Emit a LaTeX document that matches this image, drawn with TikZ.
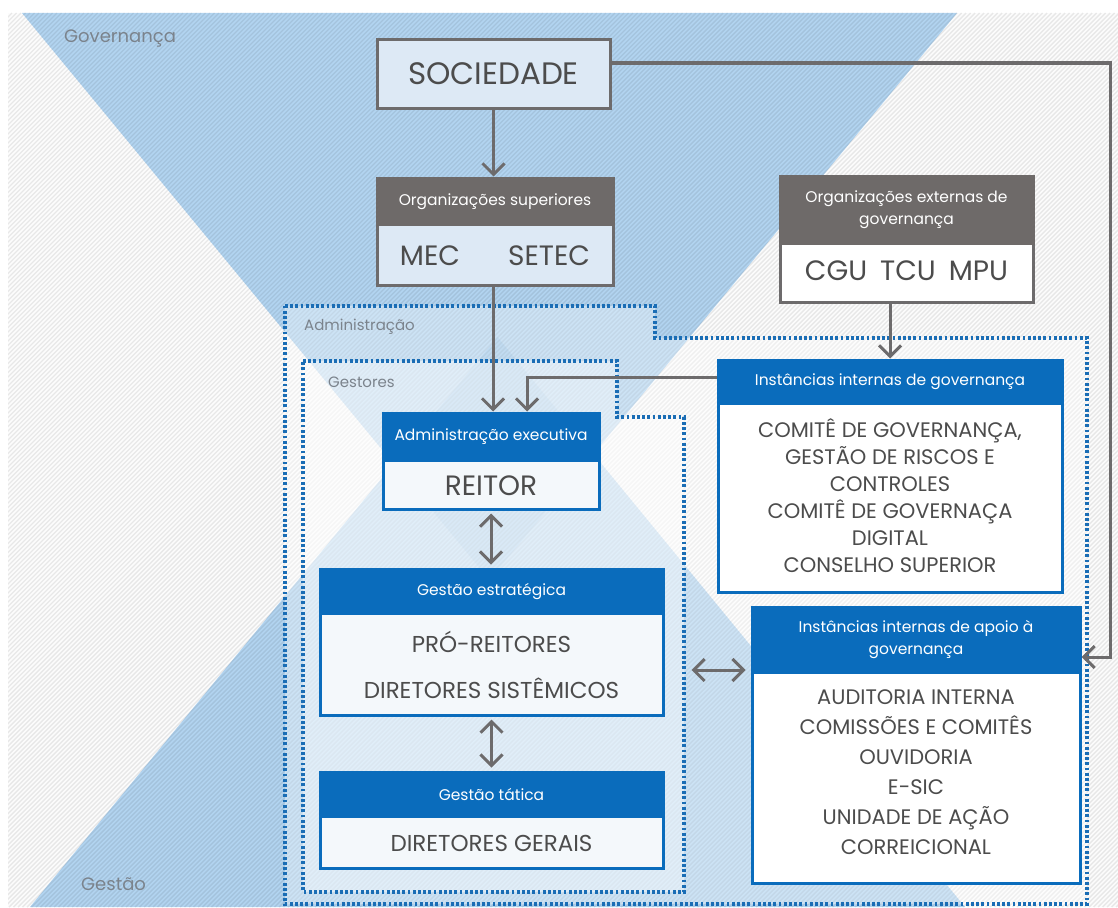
\documentclass[tikz,border=0pt]{standalone}
\usepackage{fontspec}
\setmainfont{Poppins}
\usetikzlibrary{arrows.meta,calc}
\definecolor{hdrgray}{HTML}{6E6A69}
\definecolor{lngray}{HTML}{6D6B6C}
\definecolor{bluehd}{HTML}{0A6CBC}
\definecolor{dotblue}{HTML}{1A6DB5}
\definecolor{txt}{HTML}{4C4C4C}
\definecolor{lbl}{HTML}{7B838C}
\definecolor{tri}{HTML}{B2D4F0}
\definecolor{pale}{HTML}{DDE9F5}
\definecolor{bodyw}{HTML}{F4F8FB}
\definecolor{diam}{HTML}{4A90D0}
\begin{document}
\begin{tikzpicture}[x=1pt,y=-1pt,
  gbox/.style={draw=lngray, line width=3pt, fill=pale, inner sep=0pt},
  bbox/.style={draw=bluehd, line width=3pt, fill=bodyw, inner sep=0pt},
  ghdr/.style={fill=hdrgray, text=white, inner sep=0pt, outer sep=0pt, anchor=north, align=center, font=\fontsize{15.5}{22}\selectfont},
  bhdr/.style={fill=bluehd, text=white, inner sep=0pt, outer sep=0pt, anchor=north, align=center, font=\fontsize{15.5}{22}\selectfont},
  bigtxt/.style={text=txt, inner sep=0pt, align=center},
  lbltxt/.style={text=lbl, inner sep=0pt, anchor=west},
  arr/.style={draw=lngray, line width=3pt, -{Straight Barb[length=11pt,width=22pt]}},
  darr/.style={draw=lngray, line width=3pt, {Straight Barb[length=11pt,width=22pt]}-{Straight Barb[length=11pt,width=22pt]}, shorten <=3pt, shorten >=3pt},
  dotb/.style={draw=dotblue, line width=3.4pt, dash pattern=on 2.8pt off 2.4pt}
]
\useasboundingbox (0,0) rectangle (1118,907);
% background
\fill[white] (0,0) rectangle (1118,907);
\fill[black!1] (8,13) rectangle (1118,907);
\fill[tri] (22,13) -- (957,13) -- (489.5,580) -- cycle;
\fill[tri] (30,907) -- (965,907) -- (497.5,337) -- cycle;
\begin{scope}
  \clip (22,13) -- (957,13) -- (489.5,580) -- cycle;
  \fill[diam, opacity=0.16] (30,907) -- (965,907) -- (497.5,337) -- cycle;
\end{scope}
% hatching
\begin{scope}
  \clip (8,13) rectangle (1118,907);
  \foreach \i in {-900,-895.5,...,1120}
    \draw[black, draw opacity=0.08, line width=1.4pt] (\i,907) -- ++(894,-894);
\end{scope}
% overlays for Administracao and Gestores
\fill[white, opacity=0.35] (285,306) -- (655,306) -- (655,338) -- (1087,338) -- (1087,904) -- (285,904) -- cycle;
\fill[white, opacity=0.4] (303,361) -- (617,361) -- (617,417) -- (684,417) -- (684,892) -- (303,892) -- cycle;
\draw[dotb] (285,306) -- (655,306) -- (655,338) -- (1087,338) -- (1087,904) -- (285,904) -- cycle;
\draw[dotb] (303,361) -- (617,361) -- (617,417) -- (684,417) -- (684,892) -- (303,892) -- cycle;
% labels
\node[lbltxt, font=\fontsize{18}{20}\selectfont] (lgov) at (64,38) {Governança};
\node[lbltxt, font=\fontsize{18}{20}\selectfont] (lges) at (81,884) {Gestão};
\node[lbltxt, font=\fontsize{15}{18}\selectfont] (ladm) at (304,327) {Administração};
\node[lbltxt, font=\fontsize{15}{18}\selectfont] (lgst) at (328,382) {Gestores};

% boxes
\node[gbox, minimum width=233pt, minimum height=68pt, text=txt, font=\fontsize{31}{34}\selectfont] (soc) at (493.5,74) {SOCIEDADE};

\node[gbox, minimum width=236pt, minimum height=107pt] (sup) at (495,231.5) {};
\node[ghdr, minimum width=239pt, minimum height=49.5pt] (supH) at (sup.north) {Organizações superiores};
\node[bigtxt, font=\fontsize{28}{30}\selectfont] (supT) at (495,256) {MEC\hspace{48pt}SETEC};

\node[gbox, fill=white, minimum width=253pt, minimum height=126pt] (ext) at (906.5,239) {};
\node[ghdr, minimum width=256pt, minimum height=70.5pt] (extH) at (ext.north) {Organizações externas de\\governança};
\node[bigtxt, font=\fontsize{28}{30}\selectfont] (extT) at (906.5,271) {CGU\hspace{13pt}TCU\hspace{13pt}MPU};

\node[bbox, fill=white, minimum width=344pt, minimum height=232pt] (gov) at (890,476) {};
\node[bhdr, minimum width=347pt, minimum height=46.5pt] (govH) at (gov.north) {Instâncias internas de governança};
\node[bigtxt, font=\fontsize{21}{27}\selectfont] (govT) at (890,496) {COMITÊ DE GOVERNANÇA,\\GESTÃO DE RISCOS E\\CONTROLES\\COMITÊ DE GOVERNAÇA\\DIGITAL\\CONSELHO SUPERIOR};

\node[bbox, minimum width=216pt, minimum height=96pt] (exe) at (491,461) {};
\node[bhdr, minimum width=219pt, minimum height=50.5pt] (exeH) at (exe.north) {Administração executiva};
\node[bigtxt, font=\fontsize{28}{30}\selectfont] (exeT) at (491,486) {REITOR};

\node[bbox, minimum width=343pt, minimum height=146pt] (est) at (491.5,642) {};
\node[bhdr, minimum width=346pt, minimum height=47.5pt] (estH) at (est.north) {Gestão estratégica};
\node[bigtxt, font=\fontsize{23}{46}\selectfont] (estT) at (491.5,665) {PRÓ-REITORES\\DIRETORES SISTÊMICOS};

\node[bbox, minimum width=343pt, minimum height=96pt] (tat) at (491.5,820) {};
\node[bhdr, minimum width=346pt, minimum height=47.5pt] (tatH) at (tat.north) {Gestão tática};
\node[bigtxt, font=\fontsize{23}{30}\selectfont] (tatT) at (491.5,843) {DIRETORES GERAIS};

\node[bbox, fill=white, minimum width=328pt, minimum height=276pt] (apo) at (916,745) {};
\node[bhdr, minimum width=331pt, minimum height=68.5pt] (apoH) at (apo.north) {Instâncias internas de apoio à\\governança};
\node[bigtxt, font=\fontsize{21}{30}\selectfont] (apoT) at (916,772) {AUDITORIA INTERNA\\COMISSÕES E COMITÊS\\OUVIDORIA\\E-SIC\\UNIDADE DE AÇÃO\\CORREICIONAL};

% connectors
\coordinate (rc) at (1110,657);
\draw[arr] (soc.south) -- (soc.south |- sup.north);
\draw[arr] ([yshift=11pt]soc.east) -| (rc) -- (rc -| apo.east);
\draw[arr] ([xshift=-2pt]sup.south) -- ([xshift=-2pt]sup.south |- exe.north);
\draw[arr] (gov.north |- ext.south) -- (gov.north);
\draw[arr] (gov.west |- 0,377) -| ([xshift=36pt]exe.north);
\draw[darr] (exe.south) -- (exe.south |- est.north);
\draw[darr] (est.south) -- (est.south |- tat.north);
\draw[darr, shorten <=27pt, shorten >=5pt] (est.east |- 0,670) -- (apo.west |- 0,670);
\end{tikzpicture}
\end{document}
